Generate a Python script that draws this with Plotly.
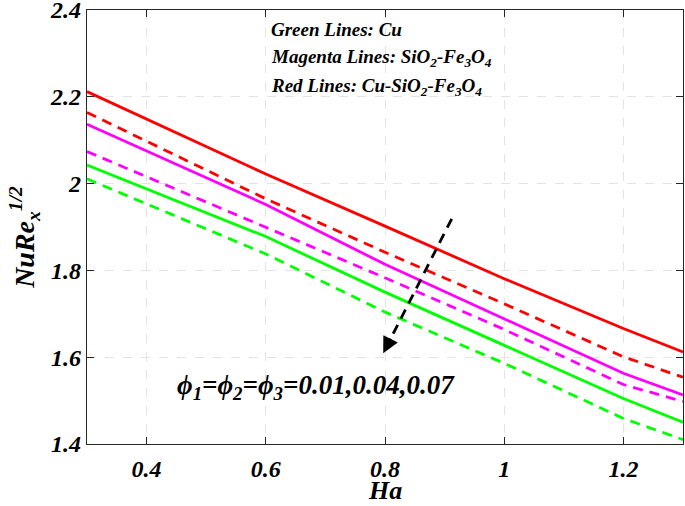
import plotly.graph_objects as go

ha = [0.3, 0.6, 0.8, 1.0, 1.2, 1.3]
red_solid = [2.212, 2.022, 1.902, 1.781, 1.666, 1.612]
red_dash = [2.164, 1.965, 1.842, 1.723, 1.601, 1.554]
mag_solid = [2.137, 1.952, 1.814, 1.689, 1.563, 1.513]
mag_dash = [2.074, 1.900, 1.783, 1.664, 1.537, 1.498]
grn_solid = [2.043, 1.878, 1.750, 1.628, 1.505, 1.450]
grn_dash = [2.011, 1.838, 1.704, 1.586, 1.459, 1.410]

x_ticks = [0.4, 0.6, 0.8, 1.0, 1.2]
x_ticklabels = ["0.4", "0.6", "0.8", "1", "1.2"]
y_ticks = [1.4, 1.6, 1.8, 2.0, 2.2, 2.4]
y_ticklabels = ["1.4", "1.6", "1.8", "2", "2.2", "2.4"]

arrow_x = [0.912, 0.797]
arrow_y = [1.919, 1.609]

FONT = "Liberation Serif"
DASH = "10px,7px"

fig = go.Figure()
series = [
    (red_solid, "#ff0000", "solid"),
    (red_dash, "#ff0000", DASH),
    (mag_solid, "#ff00ff", "solid"),
    (mag_dash, "#ff00ff", DASH),
    (grn_solid, "#00ff00", "solid"),
    (grn_dash, "#00ff00", DASH),
]
for ys, col, dash in series:
    fig.add_trace(go.Scatter(x=ha, y=ys, mode="lines",
                             line=dict(color=col, width=2.8, dash=dash),
                             showlegend=False, hoverinfo="skip"))

# dashed arrow shaft
fig.add_trace(go.Scatter(x=arrow_x, y=arrow_y, mode="lines",
                         line=dict(color="black", width=2.8, dash=DASH),
                         showlegend=False, hoverinfo="skip"))
# arrow head
dx = arrow_x[1] - arrow_x[0]
dy = arrow_y[1] - arrow_y[0]
fig.add_annotation(x=arrow_x[1], y=arrow_y[1],
                   ax=arrow_x[1] - dx * 0.12, ay=arrow_y[1] - dy * 0.12,
                   axref="x", ayref="y", xref="x", yref="y",
                   showarrow=True, arrowhead=2, arrowsize=1.3, arrowwidth=2.5,
                   arrowcolor="black", text="")

fig.add_annotation(x=0.685, y=1.531, xref="x", yref="y",
                   text="<b><i>\u03d5<sub>1</sub>=\u03d5<sub>2</sub>=\u03d5<sub>3</sub>=0.01,0.04,0.07</i></b>",
                   showarrow=False, font=dict(family=FONT, size=27, color="black"))

legend_lines = [
    ("<b><i>Green Lines: Cu</i></b>", 2.356),
    ("<b><i>Magenta Lines: SiO<sub>2</sub>-Fe<sub>3</sub>O<sub>4</sub></i></b>", 2.29),
    ("<b><i>Red Lines: Cu-SiO<sub>2</sub>-Fe<sub>3</sub>O<sub>4</sub></i></b>", 2.222),
]
for txt, yv in legend_lines:
    fig.add_annotation(x=0.605, y=yv, xref="x", yref="y", text=txt,
                       showarrow=False, xanchor="left",
                       font=dict(family=FONT, size=19, color="black"))

# axis titles
fig.add_annotation(x=0.5, y=-0.108, xref="paper", yref="paper",
                   xanchor="center", yanchor="middle",
                   text="<b><i>Ha</i></b>", showarrow=False,
                   font=dict(family=FONT, size=26, color="black"))
fig.add_annotation(x=-0.104, y=0.475, xref="paper", yref="paper", textangle=-90,
                   xanchor="center", yanchor="middle",
                   text="<b><i>NuRe<sub>x</sub><sup>1/2</sup></i></b>", showarrow=False,
                   font=dict(family=FONT, size=28, color="black"))

axis_common = dict(showline=True, linecolor="#262626", linewidth=1.3, mirror="ticks",
                   ticks="inside", ticklen=7, tickcolor="#262626",
                   showgrid=True, gridcolor="#e3e3e3", griddash="dash", gridwidth=1.2,
                   zeroline=False, automargin=False, ticklabeloverflow="allow",
                   tickfont=dict(family=FONT, size=24, color="black"))

fig.update_xaxes(range=[0.3, 1.3], tickvals=x_ticks,
                 ticktext=[f"<b><i>{t}</i></b>" for t in x_ticklabels],
                 ticklabelstandoff=3, **axis_common)
fig.update_yaxes(range=[1.4, 2.4001], tickvals=y_ticks,
                 ticktext=[f"<b><i>{t}</i></b>" for t in y_ticklabels],
                 ticklabelstandoff=0, **axis_common)

fig.update_layout(width=685, height=506,
                  margin=dict(l=87, r=2, t=10, b=62),
                  plot_bgcolor="white", paper_bgcolor="white")

fig.write_html("out.html", config={"displayModeBar": False},
               post_script="document.body.style.margin='0';")
